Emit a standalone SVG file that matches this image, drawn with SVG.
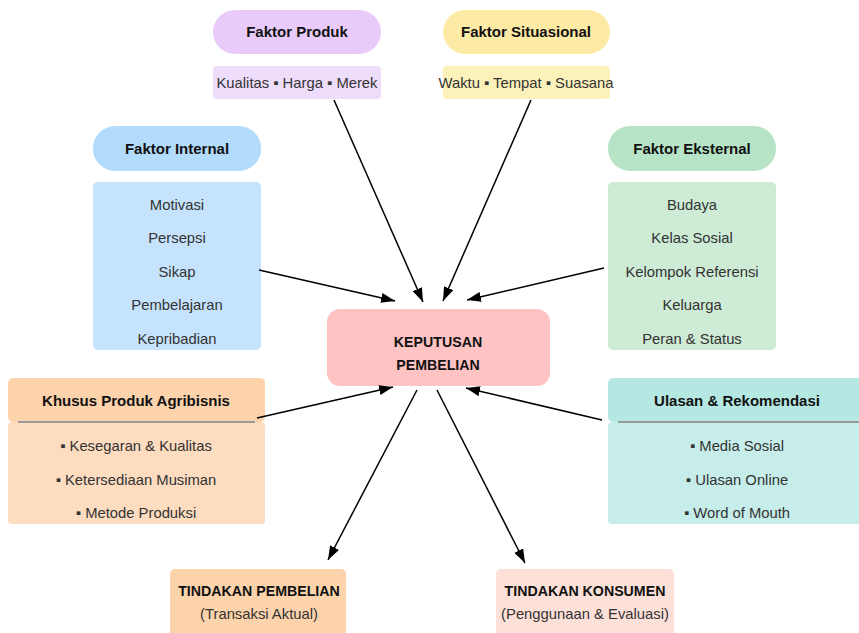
<svg xmlns="http://www.w3.org/2000/svg" width="859" height="633" viewBox="0 0 859 633">
<defs>
<marker id="ah" viewBox="0 0 14 10" refX="14" refY="5" markerWidth="14" markerHeight="10" markerUnits="userSpaceOnUse" orient="auto">
<path d="M0,0 L14,5 L0,10 Z" fill="#000"/>
</marker>
<style>
text{font-family:"Liberation Sans",Arial,sans-serif;text-anchor:middle;}
.h{font-size:15px;font-weight:bold;fill:#111;}
.t{font-size:14.8px;fill:#333;}
.c{font-size:14.2px;font-weight:bold;fill:#111;}
.conn line{stroke:#000;stroke-width:1.5;marker-end:url(#ah);}
.sep{stroke:#999;stroke-width:2;}
</style>
</defs>
<rect width="859" height="633" fill="#fff"/>

<g id="faktor-produk">
<rect x="213" y="10" width="168" height="44" rx="22" fill="#e9cbfb"/>
<text class="h" x="297" y="37">Faktor Produk</text>
<rect x="213" y="66" width="168" height="33" rx="4" fill="#eedcfb"/>
<text class="t" x="297" y="88">Kualitas ▪ Harga ▪ Merek</text>
</g>

<g id="faktor-situasional">
<rect x="443" y="10" width="167" height="44" rx="22" fill="#fdeaa4"/>
<text class="h" x="526" y="37">Faktor Situasional</text>
<rect x="443" y="66" width="167" height="33" rx="4" fill="#fdf1ba"/>
<text class="t" x="526" y="88">Waktu ▪ Tempat ▪ Suasana</text>
</g>

<g id="faktor-internal">
<rect x="93" y="126" width="168" height="45" rx="22" fill="#b3dcfc"/>
<text class="h" x="177" y="154">Faktor Internal</text>
<rect x="93" y="182" width="168" height="168" rx="5" fill="#c5e3fc"/>
<text class="t" x="177" y="210">Motivasi</text>
<text class="t" x="177" y="243">Persepsi</text>
<text class="t" x="177" y="277">Sikap</text>
<text class="t" x="177" y="310">Pembelajaran</text>
<text class="t" x="177" y="344">Kepribadian</text>
</g>

<g id="faktor-eksternal">
<rect x="608" y="126" width="168" height="45" rx="22" fill="#b7e4c7"/>
<text class="h" x="692" y="154">Faktor Eksternal</text>
<rect x="608" y="182" width="168" height="168" rx="5" fill="#cdebd5"/>
<text class="t" x="692" y="210">Budaya</text>
<text class="t" x="692" y="243">Kelas Sosial</text>
<text class="t" x="692" y="277">Kelompok Referensi</text>
<text class="t" x="692" y="310">Keluarga</text>
<text class="t" x="692" y="344">Peran &amp; Status</text>
</g>

<g id="keputusan">
<rect x="327" y="309" width="223" height="77" rx="13" fill="#ffc3c3"/>
<text class="c" x="438" y="347">KEPUTUSAN</text>
<text class="c" x="438" y="370">PEMBELIAN</text>
</g>

<g id="agribisnis">
<rect x="8" y="422" width="257" height="102" rx="4" fill="#fddcc0"/>
<rect x="8" y="378" width="257" height="44" rx="5" fill="#fdd3ac"/>
<line class="sep" x1="18" y1="422" x2="255" y2="422"/>
<text class="h" x="136" y="406">Khusus Produk Agribisnis</text>
<text class="t" x="136" y="451">▪ Kesegaran &amp; Kualitas</text>
<text class="t" x="136" y="485">▪ Ketersediaan Musiman</text>
<text class="t" x="136" y="518">▪ Metode Produksi</text>
</g>

<g id="ulasan">
<rect x="608" y="422" width="259" height="102" rx="4" fill="#c6ede9"/>
<rect x="608" y="378" width="259" height="44" rx="5" fill="#b5e8e2"/>
<line class="sep" x1="618" y1="422" x2="859" y2="422"/>
<text class="h" x="737" y="406">Ulasan &amp; Rekomendasi</text>
<text class="t" x="737" y="451">▪ Media Sosial</text>
<text class="t" x="737" y="485">▪ Ulasan Online</text>
<text class="t" x="737" y="518">▪ Word of Mouth</text>
</g>

<g id="tindakan-pembelian">
<rect x="170" y="569" width="176" height="70" rx="5" fill="#fdd3ac"/>
<text class="c" x="259" y="596">TINDAKAN PEMBELIAN</text>
<text class="t" x="259" y="619">(Transaksi Aktual)</text>
</g>

<g id="tindakan-konsumen">
<rect x="496" y="569" width="178" height="70" rx="5" fill="#fde0d8"/>
<text class="c" x="585" y="596">TINDAKAN KONSUMEN</text>
<text class="t" x="585" y="619">(Penggunaan &amp; Evaluasi)</text>
</g>

<g class="conn" id="connectors">
<line x1="334" y1="100" x2="423" y2="302"/>
<line x1="531" y1="100" x2="443" y2="301"/>
<line x1="259" y1="270" x2="395" y2="301"/>
<line x1="604" y1="268" x2="467" y2="300"/>
<line x1="257" y1="418" x2="393" y2="387"/>
<line x1="602" y1="420" x2="466" y2="388"/>
<line x1="417" y1="390" x2="328" y2="560"/>
<line x1="437" y1="390" x2="525" y2="563"/>
</g>
</svg>
